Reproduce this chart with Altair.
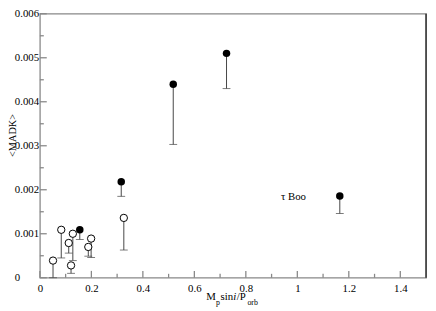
import altair as alt
import pandas as pd

# ---- data ----
filled_x = [0.155, 0.316, 0.518, 0.725, 1.165]
filled_y = [0.00109, 0.00218, 0.0044, 0.0051, 0.00186]
filled_lo = [0.00087, 0.00185, 0.00303, 0.0043, 0.00146]

open_x = [0.051, 0.083, 0.112, 0.121, 0.128, 0.188, 0.199, 0.326]
open_y = [0.00039, 0.00109, 0.00079, 0.00028, 0.0010, 0.0007, 0.00089, 0.00136]
open_lo = [0.0, 0.00045, 0.00056, 0.0001, 0.00039, 0.00049, 0.00046, 0.00063]

x_major = [0, 0.2, 0.4, 0.6, 0.8, 1.0, 1.2, 1.4]
x_minor = [0.1, 0.3, 0.5, 0.7, 0.9, 1.1, 1.3]
y_major = [0, 0.001, 0.002, 0.003, 0.004, 0.005, 0.006]
y_minor = [0.0005, 0.0015, 0.0025, 0.0035, 0.0045, 0.0055]

label_text = ["\u03c4 Boo"]
label_x = [0.985]
label_y = [0.00184]

W, H = 393.5, 269
FONT = "Liberation Serif, Times New Roman, Times, serif"
AX = "#888888"

df = pd.DataFrame({
    "x": filled_x + open_x,
    "y": filled_y + open_y,
    "lo": filled_lo + open_lo,
    "kind": ["filled"] * len(filled_x) + ["open"] * len(open_x),
})

xs = alt.Scale(domain=[0, 1.5], nice=False, zero=False)
ys = alt.Scale(domain=[0, 0.006], nice=False, zero=False)

xax = alt.Axis(values=x_major, format="~g", title=None, grid=False, ticks=False, tickSize=0,
               domain=False, labelFont=FONT, labelFontSize=11, labelColor="black",
               labelPadding=5, labelFlush=False)
yax = alt.Axis(values=y_major, format="~g", title=None, grid=False, ticks=False, tickSize=0,
               domain=False, labelFont=FONT, labelFontSize=11, labelColor="black",
               labelAlign="left", labelPadding=26, labelFlush=False)

base = alt.Chart(df)

bars = base.mark_rule(color="#444444", strokeWidth=1).encode(
    x=alt.X("x:Q", scale=xs, axis=xax),
    y=alt.Y("y:Q", scale=ys, axis=yax),
    y2="lo:Q",
)
caps = base.mark_tick(orient="horizontal", size=8, thickness=1, color="#444444").encode(
    x=alt.X("x:Q", scale=xs),
    y=alt.Y("lo:Q", scale=ys),
)
opens = base.transform_filter(alt.datum.kind == "open").mark_point(
    shape="circle", size=56, filled=True, fill="white", stroke="black", strokeWidth=1, opacity=1
).encode(x=alt.X("x:Q", scale=xs), y=alt.Y("y:Q", scale=ys))
fills = base.transform_filter(alt.datum.kind == "filled").mark_point(
    shape="circle", size=58, filled=True, color="black", opacity=1
).encode(x=alt.X("x:Q", scale=xs), y=alt.Y("y:Q", scale=ys))

# inward tick marks
xmaj = alt.Chart(pd.DataFrame({"v": x_major})).mark_rule(color=AX, strokeWidth=1.3).encode(
    x=alt.X("v:Q", scale=xs), y=alt.value(H), y2=alt.value(H - 7))
xmin = alt.Chart(pd.DataFrame({"v": x_minor})).mark_rule(color=AX, strokeWidth=1.3).encode(
    x=alt.X("v:Q", scale=xs), y=alt.value(H), y2=alt.value(H - 4))
ymaj = alt.Chart(pd.DataFrame({"v": y_major})).mark_rule(color=AX, strokeWidth=1.3).encode(
    y=alt.Y("v:Q", scale=ys), x=alt.value(0), x2=alt.value(7))
ymin = alt.Chart(pd.DataFrame({"v": y_minor})).mark_rule(color=AX, strokeWidth=1.3).encode(
    y=alt.Y("v:Q", scale=ys), x=alt.value(0), x2=alt.value(4))
right = alt.Chart(pd.DataFrame({"v": [0]})).mark_rule(color="#333333", strokeWidth=1.5).encode(
    x=alt.value(W), y=alt.value(0), y2=alt.value(H))

lab = alt.Chart(pd.DataFrame({"t": label_text, "x": label_x, "y": label_y})).mark_text(
    font=FONT, fontSize=11, color="black", align="center", baseline="middle"
).encode(x=alt.X("x:Q", scale=xs), y=alt.Y("y:Q", scale=ys), text="t:N")


def txt(s, x, y, size=11, style="normal", align="left"):
    return alt.Chart(pd.DataFrame({"t": [s]})).mark_text(
        font=FONT, fontSize=size, fontStyle=style, color="black", align=align,
        baseline="alphabetic"
    ).encode(x=alt.value(x), y=alt.value(y), text="t:N")


ytitle = alt.Chart(pd.DataFrame({"t": ["<MADK>"]})).mark_text(
    font=FONT, fontSize=10.5, color="black", align="center", baseline="middle", angle=270
).encode(x=alt.value(-27.5), y=alt.value(124), text="t:N")

xt = [
    txt("M", 169.5, 291.7),
    txt("p", 179.5, 296.5, size=8),
    txt("sin", 184.0, 291.7),
    txt("i", 197.0, 291.7, style="italic"),
    txt("/P", 200.5, 291.7),
    txt("orb", 211.5, 296.5, size=8),
]

chart = alt.layer(
    bars, caps, opens, fills, xmaj, xmin, ymaj, ymin, right, lab, ytitle, *xt
).properties(
    width=W, height=H,
    autosize=alt.AutoSizeParams(type="none"),
    padding={"left": 32.5, "top": 3, "right": 2, "bottom": 31},
).configure_view(stroke=AX, strokeWidth=1.3)

chart.save("out.html", embed_options={"renderer": "svg", "actions": False})
